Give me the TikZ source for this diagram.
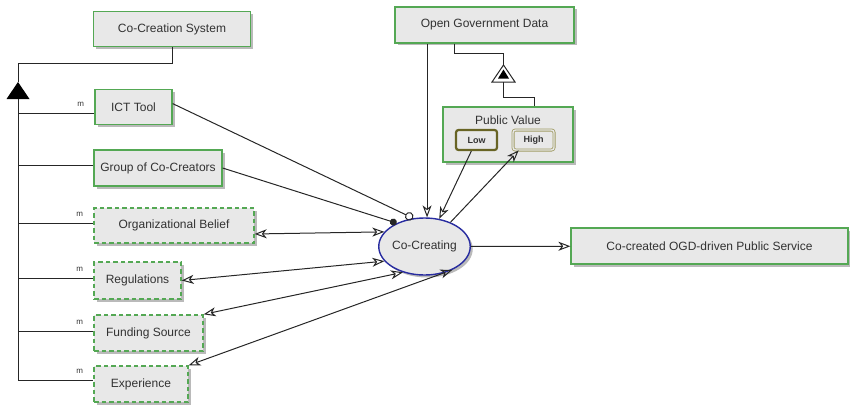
\documentclass[tikz,border=0pt]{standalone}
\usepackage{fontspec}
\setmainfont{Liberation Sans}
\usetikzlibrary{arrows.meta,shapes.geometric,shadows,positioning,calc}

\definecolor{boxgreen}{RGB}{84,168,84}
\definecolor{boxfill}{RGB}{232,232,232}
\definecolor{ovalblue}{RGB}{40,44,160}
\definecolor{lowolive}{RGB}{104,100,36}
\definecolor{higholive}{RGB}{160,156,100}
\definecolor{inkgray}{RGB}{50,50,50}

\begin{document}
\begin{tikzpicture}[
    x=1pt, y=-1pt,
    every node/.style={font=\fontsize{12}{14}\selectfont, text=inkgray},
    entity/.style={rectangle, draw=boxgreen, line width=1.2pt, fill=boxfill, minimum height=35pt, inner sep=0pt,
        drop shadow={shadow xshift=2.5pt, shadow yshift=-2.5pt, fill=black!45, opacity=0.6}},
    optional/.style={entity, dash pattern=on 4.5pt off 3pt, line width=1.4pt},
    activity/.style={ellipse, draw=ovalblue, line width=1.4pt, fill=boxfill, minimum width=91pt, minimum height=57pt, inner sep=0pt,
        drop shadow={shadow xshift=2.5pt, shadow yshift=-2.5pt, fill=black!45, opacity=0.6}},
    level/.style={rectangle, rounded corners=2.5pt, fill=boxfill, minimum width=41pt, minimum height=20pt, inner sep=0pt,
        font=\fontsize{9}{10}\selectfont\bfseries},
    mlabel/.style={font=\fontsize{8}{9}\selectfont, inner sep=0pt},
    link/.style={draw=black!85, line width=1pt},
    flow/.style={link, -{Stealth[open, length=12pt, width=9pt, inset=3.5pt]}},
    both/.style={link, {Stealth[open, length=12pt, width=9pt, inset=3.5pt]}-{Stealth[open, length=12pt, width=9pt, inset=3.5pt]}},
    hollowend/.style={link, -{Circle[open, length=8.5pt, width=8.5pt]}},
    solidend/.style={link, -{Circle[length=7pt, width=7pt]}}
]
    \useasboundingbox (0,0) rectangle (850,404);

    % Sistema e componenti
    \node[entity, minimum width=157pt] (system) at (172,29) {Co-Creation System};
    \node[entity, minimum width=77pt] (ict) at (133.5,107) {ICT Tool};
    \node[entity, minimum width=128pt, minimum height=36pt] (group) at (158,168) {Group of Co-Creators};
    \node[optional, minimum width=160pt] (belief) at (174,225.5) {Organizational Belief};
    \node[optional, minimum width=87pt, minimum height=37pt] (regulations) at (137.5,280.5) {Regulations};
    \node[optional, minimum width=109pt, minimum height=36pt] (funding) at (148.5,333) {Funding Source};
    \node[optional, minimum width=94pt, minimum height=36pt] (experience) at (141,384) {Experience};

    % Dati aperti e valore pubblico
    \node[entity, minimum width=179pt, minimum height=36pt] (ogd) at (484.5,25) {Open Government Data};
    \node[entity, minimum width=130pt, minimum height=55pt] (value) at (508,134.5) {};
    \node (valuetitle) at ([yshift=-14pt]value.north) {Public Value};
    \node[level, draw=lowolive, line width=2.2pt] (low) at (476.5,140) {Low};
    \node[level, draw=higholive, line width=0.8pt, double=boxfill, double distance=1.4pt] (high) at (533.5,140) {High};

    % Attivita e risultato
    \node[activity] (cocreating) at (424.5,246.5) {Co-Creating};
    \node[entity, minimum width=277pt, minimum height=36pt] (service) at (709.5,246) {Co-created OGD-driven Public Service};

    % Aggregazione a sinistra
    \coordinate (isatop) at (18,82);
    \coordinate (isabase) at (18,99);
    \draw[link] (system.south) -- ++(0,16) -| (isatop);
    \fill[black] (isatop) -- ++(11.5,17) -- ++(-23,0) -- cycle;
    \foreach \part/\dy in {ict/6, group/-3, belief/-2.5, regulations/-2.5, funding/-2, experience/-4}
        \coordinate (\part-in) at ($(\part.west)+(0,\dy)$);
    \draw[link] (isabase) -- (isabase |- experience-in);
    \draw[link] (isabase |- group-in) -- (group-in);
    \foreach \part in {ict, belief, regulations, funding, experience}
        \draw[link] (isabase |- \part-in) -- node[mlabel, pos=0.82, above=6pt] {m} (\part-in);

    % Specializzazione del valore pubblico
    \coordinate (gentop) at (503.5,65);
    \coordinate (genbase) at (503.5,82);
    \draw[link] ([xshift=-30.5pt]ogd.south) -- ++(0,10) -| (gentop);
    \draw[link, fill=white] (gentop) -- ++(11.5,17) -- ++(-23,0) -- cycle;
    \fill[black] ($(gentop)+(0,4.5)$) -- ++(5.5,9) -- ++(-11,0) -- cycle;
    \draw[link] (genbase) -- ++(0,15) -| ([xshift=26pt]value.north);

    % Relazioni con l'attivita
    \draw[flow] (ogd.south -| cocreating.85) -- (cocreating.85);
    \draw[flow] (low.-115) -- (cocreating.62);
    \draw[flow] (cocreating.43) -- (high.215);
    \draw[hollowend] (ict.5) -- (cocreating.112);
    \draw[solidend] (group.east) -- (cocreating.140);
    \draw[both] (belief.-6) -- (cocreating.160);
    \draw[both] (regulations.east) -- (cocreating.200);
    \draw[both] (funding.north east) -- (cocreating.230);
    \draw[both] (experience.north east) -- (cocreating.320);
    \draw[flow] (cocreating) -- (service);
\end{tikzpicture}
\end{document}
